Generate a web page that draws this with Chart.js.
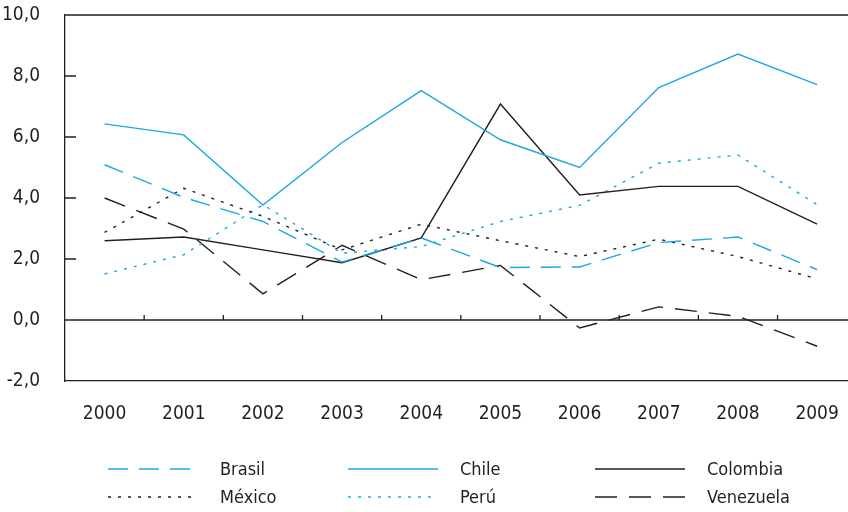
<!DOCTYPE html>
<html>
<head>
<meta charset="utf-8">
<script src="https://cdn.jsdelivr.net/npm/chart.js@4"></script>
<style>
  html, body { margin: 0; padding: 0; background: #fff; }
  #wrap { width: 848px; height: 512px; }
</style>
</head>
<body>
<div id="wrap"><canvas id="chart" width="848" height="512"></canvas></div>
<script>
// data
var years = [2000, 2001, 2002, 2003, 2004, 2005, 2006, 2007, 2008, 2009];
var brasil    = [5.09, 4.02, 3.23, 1.90, 2.69, 1.72, 1.74, 2.54, 2.72, 1.65];
var chile     = [6.43, 6.07, 3.77, 5.82, 7.52, 5.91, 5.00, 7.62, 8.72, 7.72];
var colombia  = [2.60, 2.72, 2.30, 1.88, 2.69, 7.08, 4.10, 4.38, 4.38, 3.14];
var mexico    = [2.87, 4.32, 3.40, 2.30, 3.14, 2.60, 2.08, 2.65, 2.08, 1.35];
var peru      = [1.51, 2.14, 3.78, 2.19, 2.41, 3.23, 3.76, 5.14, 5.41, 3.78];
var venezuela = [4.00, 2.98, 0.86, 2.45, 1.32, 1.79, -0.26, 0.43, 0.12, -0.86];
var yTicks = [-2, 0, 2, 4, 6, 8, 10];

var BLUE = '#1ba9e1';
var DARK = '#231f20';
var FONT = "'Liberation Sans Narrow', 'DejaVu Sans Condensed', sans-serif";

function pts(vals) {
  return years.map(function(yr, i) { return { x: yr, y: vals[i] }; });
}

function series(label, vals, color, dash) {
  return {
    label: label,
    data: pts(vals),
    borderColor: color,
    backgroundColor: color,
    borderWidth: 1.4,
    borderDash: dash,
    pointRadius: 0,
    tension: 0,
    fill: false
  };
}

function noPad(s) {
  s.paddingTop = 0; s.paddingBottom = 0;
  s.paddingLeft = 0; s.paddingRight = 0;
}

// frame, zero line, small ticks
var framePlugin = {
  id: 'frame',
  beforeDatasetsDraw: function(chart) {
    var ctx = chart.ctx, a = chart.chartArea;
    var xs = chart.scales.x, ys = chart.scales.y;
    ctx.save();
    ctx.strokeStyle = '#555';
    ctx.lineWidth = 2;
    ctx.beginPath();
    ctx.moveTo(a.left, a.top);
    ctx.lineTo(a.right, a.top);
    ctx.stroke();

    ctx.strokeStyle = DARK;
    ctx.lineWidth = 1.3;
    var y0 = ys.getPixelForValue(0);
    ctx.beginPath();
    ctx.moveTo(a.left, y0);
    ctx.lineTo(a.right, y0);
    // ticks on zero line between years
    for (var i = 0; i < years.length - 1; i++) {
      var xb = xs.getPixelForValue(years[i] + 0.5);
      ctx.moveTo(xb, y0);
      ctx.lineTo(xb, y0 - 5);
    }
    // inward ticks on the y axis
    yTicks.forEach(function(v) {
      if (v === 0 || v === yTicks[0] || v === yTicks[yTicks.length - 1]) return;
      var yy = ys.getPixelForValue(v);
      ctx.moveTo(a.left, yy);
      ctx.lineTo(a.left + 11, yy);
    });
    ctx.stroke();
    ctx.restore();
  }
};

// legend in three columns under the chart
var legendPlugin = {
  id: 'gridLegend',
  afterDraw: function(chart) {
    var ctx = chart.ctx;
    var colX = [108, 348, 595];
    var rowY = [469, 497];
    var sampleW = 90;
    ctx.save();
    ctx.font = '18px ' + FONT;
    ctx.textBaseline = 'middle';
    ctx.fillStyle = DARK;
    chart.data.datasets.forEach(function(ds, i) {
      var c = i % 3, r = Math.floor(i / 3);
      var x = colX[c], y = rowY[r];
      ctx.strokeStyle = ds.borderColor;
      ctx.lineWidth = 1.6;
      ctx.setLineDash(ds.borderDash || []);
      ctx.beginPath();
      ctx.moveTo(x, y);
      ctx.lineTo(x + sampleW, y);
      ctx.stroke();
      ctx.setLineDash([]);
      ctx.fillText(ds.label, x + sampleW + 22, y + 1);
    });
    ctx.restore();
  }
};

new Chart(document.getElementById('chart'), {
  type: 'line',
  data: {
    datasets: [
      series('Brasil', brasil, BLUE, [20, 11]),
      series('Chile', chile, BLUE, []),
      series('Colombia', colombia, DARK, []),
      series('México', mexico, DARK, [3, 7]),
      series('Perú', peru, BLUE, [3, 7]),
      series('Venezuela', venezuela, DARK, [22, 12])
    ]
  },
  options: {
    responsive: false,
    animation: false,
    layout: { autoPadding: false, padding: { top: 15, left: 0, right: 0, bottom: 0 } },
    plugins: {
      legend: { display: false },
      tooltip: { enabled: false }
    },
    scales: {
      x: {
        type: 'linear',
        min: 1999.5,
        max: 2009.39,
        afterFit: function(s) { s.height = 131; noPad(s); },
        grid: { display: false, drawTicks: false },
        border: { display: true, color: DARK, width: 1.3 },
        ticks: {
          stepSize: 1,
          includeBounds: false,
          padding: 22,
          color: DARK,
          font: { family: FONT, size: 19 },
          callback: function(v) { return Number.isInteger(v) ? String(v) : ''; }
        }
      },
      y: {
        min: -2,
        max: 10,
        afterFit: function(s) { s.width = 65; noPad(s); },
        grid: { display: false, drawTicks: false },
        border: { display: true, color: DARK, width: 1.3 },
        afterBuildTicks: function(s) { s.ticks = yTicks.map(function(v) { return { value: v }; }); },
        ticks: {
          padding: 25,
          color: DARK,
          font: { family: FONT, size: 19 },
          callback: function(v) { return v.toFixed(1).replace('.', ','); }
        }
      }
    }
  },
  plugins: [framePlugin, legendPlugin]
});
</script>
</body>
</html>
